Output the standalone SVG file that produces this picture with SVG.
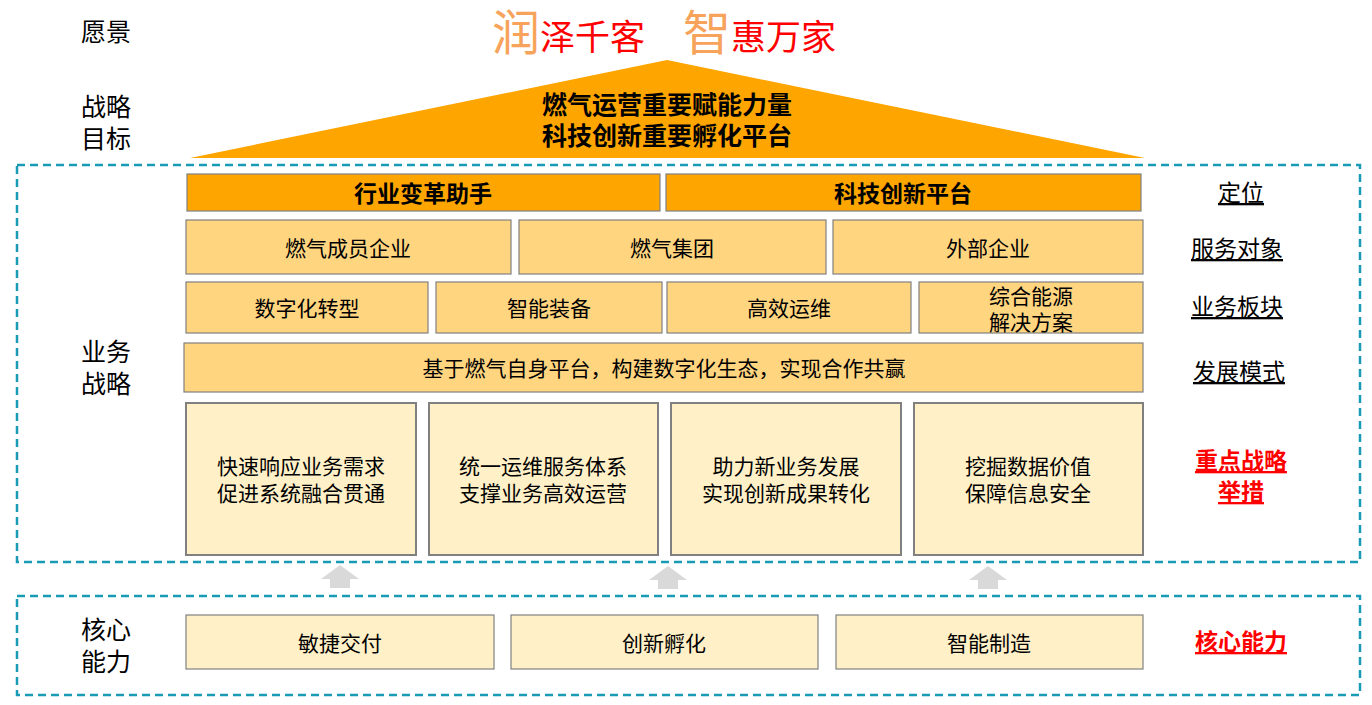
<svg xmlns="http://www.w3.org/2000/svg" width="1372" height="705" viewBox="0 0 1372 705">
<style>
text{font-family:"Noto Sans CJK SC","Liberation Sans",sans-serif;text-anchor:middle;dominant-baseline:central;fill:#000}
.frame{fill:none;stroke:#1A9BB5;stroke-width:2.5;stroke-dasharray:8 5}
.b1{fill:#FFA500;stroke:#808080;stroke-width:1.2}
.b2{fill:#FFD580;stroke:#808080;stroke-width:1.2}
.b3{fill:#FFF0C8;stroke:#808080;stroke-width:2}
.b4{fill:#FFF0C8;stroke:#808080;stroke-width:1.2}
.lbl{font-size:25px}
.t22{font-size:21px}
.tb{font-size:23px;font-weight:bold}
.tg{font-size:25px;font-weight:bold}
.rl{font-size:23px;text-decoration:underline}
.red{fill:#FF0000;font-weight:bold}
.arr{fill:#D9D9D9}
</style>
<rect width="1372" height="705" fill="#fff"/>
<!-- frames -->
<rect class="frame" x="17" y="165" width="1343" height="397"/>
<rect class="frame" x="17" y="596" width="1343" height="99"/>
<!-- left labels -->
<g id="left-labels">
<text class="lbl" x="106" y="30">愿景</text>
<text class="lbl" x="106" y="105">战略</text>
<text class="lbl" x="106" y="137">目标</text>
<text class="lbl" x="106" y="350">业务</text>
<text class="lbl" x="106" y="382">战略</text>
<text class="lbl" x="106" y="628">核心</text>
<text class="lbl" x="106" y="660">能力</text>
</g>
<!-- title -->
<g id="vision">
<text x="664" y="50" style="dominant-baseline:alphabetic"><tspan font-size="48" fill="#F7A35C">润</tspan><tspan font-size="35" fill="#FF0000">泽千客</tspan><tspan font-size="35" dx="30"> </tspan><tspan font-size="48" fill="#F7A35C">智</tspan><tspan font-size="35" fill="#FF0000">惠万家</tspan></text>
</g>
<!-- triangle -->
<g id="goal">
<polygon points="667,60 190,158 1145,158" fill="#FFA500"/>
<text class="tg" x="667" y="103">燃气运营重要赋能力量</text>
<text class="tg" x="667" y="134">科技创新重要孵化平台</text>
</g>
<!-- row 1 -->
<g id="pos1"><rect class="b1" x="187" y="174" width="473" height="37"/><text class="tb" x="423" y="192">行业变革助手</text></g>
<g id="pos2"><rect class="b1" x="666" y="174" width="475" height="37"/><text class="tb" x="903" y="192">科技创新平台</text></g>
<!-- row 2 -->
<g id="svc1"><rect class="b2" x="186" y="220" width="325" height="54"/><text class="t22" x="348" y="247">燃气成员企业</text></g>
<g id="svc2"><rect class="b2" x="519" y="220" width="307" height="54"/><text class="t22" x="672" y="247">燃气集团</text></g>
<g id="svc3"><rect class="b2" x="833" y="220" width="310" height="54"/><text class="t22" x="988" y="247">外部企业</text></g>
<!-- row 3 -->
<g id="biz1"><rect class="b2" x="186" y="282" width="242" height="51"/><text class="t22" x="307" y="307">数字化转型</text></g>
<g id="biz2"><rect class="b2" x="436" y="282" width="226" height="51"/><text class="t22" x="549" y="307">智能装备</text></g>
<g id="biz3"><rect class="b2" x="667" y="282" width="244" height="51"/><text class="t22" x="789" y="307">高效运维</text></g>
<g id="biz4"><rect class="b2" x="919" y="282" width="224" height="51"/><text class="t22" x="1031" y="295">综合能源</text><text class="t22" x="1031" y="321">解决方案</text></g>
<!-- row 4 -->
<g id="mode"><rect class="b2" x="184" y="343" width="959" height="49"/><text class="t22" x="664" y="367">基于燃气自身平台，构建数字化生态，实现合作共赢</text></g>
<!-- row 5 -->
<g id="act1"><rect class="b3" x="186" y="403" width="230" height="152"/><text class="t22" x="301" y="465">快速响应业务需求</text><text class="t22" x="301" y="492">促进系统融合贯通</text></g>
<g id="act2"><rect class="b3" x="429" y="403" width="229" height="152"/><text class="t22" x="543" y="465">统一运维服务体系</text><text class="t22" x="543" y="492">支撑业务高效运营</text></g>
<g id="act3"><rect class="b3" x="671" y="403" width="230" height="152"/><text class="t22" x="786" y="465">助力新业务发展</text><text class="t22" x="786" y="492">实现创新成果转化</text></g>
<g id="act4"><rect class="b3" x="914" y="403" width="229" height="152"/><text class="t22" x="1028" y="465">挖掘数据价值</text><text class="t22" x="1028" y="492">保障信息安全</text></g>
<!-- arrows -->
<g id="connectors">
<polygon class="arr" points="340,565 359,579 350,579 350,588 330,588 330,579 321,579"/>
<polygon class="arr" points="668,566 687,580 678,580 678,589 658,589 658,580 649,580"/>
<polygon class="arr" points="988,566 1007,580 998,580 998,589 978,589 978,580 969,580"/>
</g>
<!-- bottom row -->
<g id="cap1"><rect class="b4" x="186" y="615" width="308" height="54"/><text class="t22" x="340" y="642">敏捷交付</text></g>
<g id="cap2"><rect class="b4" x="511" y="615" width="307" height="54"/><text class="t22" x="664" y="642">创新孵化</text></g>
<g id="cap3"><rect class="b4" x="836" y="615" width="307" height="54"/><text class="t22" x="989" y="642">智能制造</text></g>
<!-- right labels -->
<g id="right-labels">
<text class="rl" x="1241" y="191">定位</text>
<text class="rl" x="1237" y="247">服务对象</text>
<text class="rl" x="1237" y="305">业务板块</text>
<text class="rl" x="1239" y="370">发展模式</text>
<text class="rl red" x="1241" y="459">重点战略</text>
<text class="rl red" x="1241" y="490">举措</text>
<text class="rl red" x="1241" y="640">核心能力</text>
</g>
</svg>
